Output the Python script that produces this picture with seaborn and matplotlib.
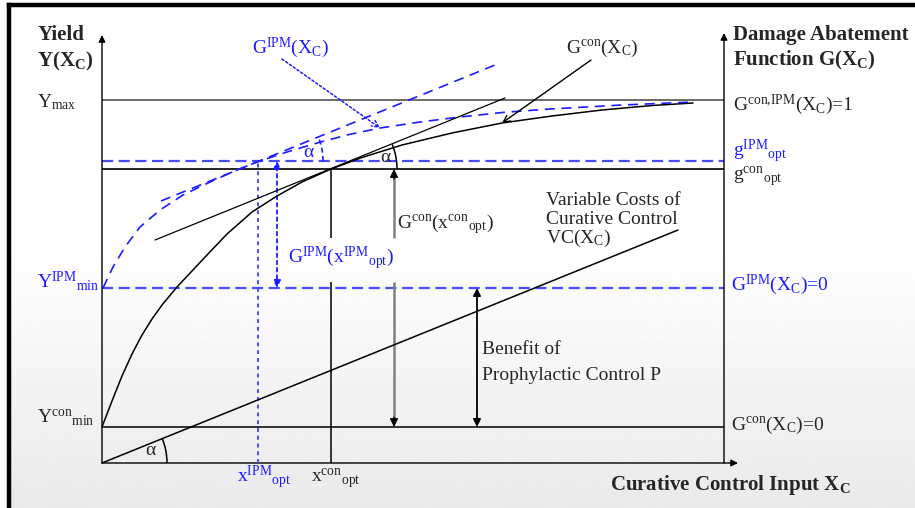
import numpy as np
import pandas as pd
import seaborn as sns
import matplotlib.pyplot as plt
from matplotlib.patches import Arc

# Yield levels (diagram units, origin at the axes cross)
y_max = 363
g_ipm_opt = 302
g_con_opt = 294
y_ipm_min = 175
y_con_min = 36
x_right = 622          # right-hand axis (damage abatement)
x_con_opt = 229
x_ipm_opt = 156

# damage abatement curve, conventional
con_x = [0, 10, 20, 30, 40, 50, 60, 75, 90, 105, 125, 150, 175, 200, 229,
         260, 300, 350, 400, 450, 500, 550, 591]
con_y = [36, 62, 87, 109, 128, 144, 158, 176, 192, 208, 229, 251, 267, 281, 294,
         305.5, 318, 330, 340, 347, 353, 357.5, 360]

# damage abatement curve, IPM
ipm_x = [1, 11, 23, 38, 58, 81, 108, 135, 155, 185, 215, 245, 278, 318, 358, 400, 448, 520, 591]
ipm_y = [175, 196, 216, 236, 253, 268, 281, 293, 301, 311, 320, 328, 335, 341, 346, 350.5, 354, 358, 361]

# variable costs of curative control and the two tangents (same slope)
vc_x = [0, 576]
vc_y = [0, 233]
tan_con_x = [53, 403]
tan_con_y = [223, 365]
tan_ipm_x = [59, 393]
tan_ipm_y = [262, 398]

BLUE = "#1c1cff"
BLUE_L = "#4a4aff"

sns.set_theme(style="white")
plt.rcParams["font.family"] = ["Liberation Serif", "DejaVu Serif"]
plt.rcParams["mathtext.fontset"] = "custom"
plt.rcParams["mathtext.rm"] = "Liberation Serif"
plt.rcParams["mathtext.it"] = "Liberation Serif:italic"
plt.rcParams["mathtext.bf"] = "Liberation Serif:bold"
plt.rcParams["mathtext.default"] = "rm"

fig = plt.figure(figsize=(9.15, 5.08), dpi=100)
ax = fig.add_axes([0, 0, 1, 1])
ax.set_xlim(-102, 813)
ax.set_ylim(-45, 463)
ax.axis("off")

# slide background: white fading to light grey at the bottom
rows = np.arange(508)
grad = np.clip(1 - (rows - 240) / 268 * 0.085, 0.915, 1.0)[:, None] * np.ones((1, 2))
ax.imshow(grad, cmap="gray", vmin=0, vmax=1, extent=(-93, 813, -45, 458),
          aspect="auto", zorder=0, origin="upper")

# slide frame
ax.plot([-93, -93], [-45, 458], color="black", lw=3.2, solid_capstyle="projecting", zorder=1)
ax.plot([-93, 813], [458, 458], color="black", lw=3.2, solid_capstyle="projecting", zorder=1)

arr = dict(arrowstyle="-|>", color="black", lw=1, mutation_scale=10, shrinkA=0, shrinkB=0)
ax.annotate("", xy=(0, 428), xytext=(0, 0), arrowprops=arr, zorder=3)
ax.annotate("", xy=(636, 0), xytext=(0, 0), arrowprops=arr, zorder=3)
ax.annotate("", xy=(x_right, 430), xytext=(x_right, 0), arrowprops=arr, zorder=3)

# horizontal reference lines
ax.hlines(y_max, 0, x_right, color="#444444", lw=1.1, zorder=2)
ax.hlines(g_con_opt, 0, x_right, color="black", lw=1.2, zorder=2)
ax.hlines(y_con_min, 0, x_right, color="black", lw=1.1, zorder=2)
ax.hlines([g_ipm_opt, y_ipm_min], 0, x_right, color=BLUE_L, lw=1.6,
          linestyles=[(0, (5, 2.5))], zorder=2)

# curves
sns.lineplot(x=con_x, y=con_y, ax=ax, color="black", lw=1.1, errorbar=None, zorder=4)
sns.lineplot(x=ipm_x, y=ipm_y, ax=ax, color=BLUE, lw=1.2, errorbar=None,
             linestyle=(0, (6, 4)), zorder=4)
sns.lineplot(x=vc_x, y=vc_y, ax=ax, color="black", lw=1.1, errorbar=None, zorder=4)
sns.lineplot(x=tan_con_x, y=tan_con_y, ax=ax, color="black", lw=0.9, errorbar=None, zorder=4)
sns.lineplot(x=tan_ipm_x, y=tan_ipm_y, ax=ax, color=BLUE, lw=1.2, errorbar=None,
             linestyle=(0, (6, 4)), zorder=4)

# verticals at the optima (with a gap for the label)
gap_lo, gap_hi = 181, 225
ax.vlines([x_con_opt, x_con_opt], [0, gap_hi], [gap_lo, g_con_opt], color="black", lw=1.1, zorder=3)
ax.vlines(x_ipm_opt, 0, g_ipm_opt, color=BLUE_L, lw=1.4, linestyles=[(0, (2, 2))], zorder=3)

# vertical distance arrows
ax.annotate("", xy=(175, g_ipm_opt), xytext=(175, y_ipm_min),
            arrowprops=dict(arrowstyle="<|-|>", color=BLUE, lw=1.3, ls=(0, (2, 2)),
                            mutation_scale=11, shrinkA=0, shrinkB=0), zorder=3)
ax.vlines([292, 292], [y_con_min + 6, gap_hi], [gap_lo, g_con_opt - 6], color="#808080",
          lw=1.8, zorder=3)
head = dict(arrowstyle="-|>", color="black", lw=1, mutation_scale=12, shrinkA=0, shrinkB=0)
ax.annotate("", xy=(292, g_con_opt), xytext=(292, g_con_opt - 10), arrowprops=head, zorder=3)
ax.annotate("", xy=(292, y_con_min), xytext=(292, y_con_min + 10), arrowprops=head, zorder=3)
ax.annotate("", xy=(375, y_ipm_min), xytext=(375, y_con_min),
            arrowprops=dict(arrowstyle="<|-|>", color="black", lw=1.3, mutation_scale=11,
                            shrinkA=0, shrinkB=0), zorder=3)

# pointers from the curve labels
ax.annotate("", xy=(278, 335), xytext=(180, 404),
            arrowprops=dict(arrowstyle="->", color=BLUE, lw=1.1, ls=(0, (1.5, 1.5)),
                            mutation_scale=12, shrinkA=0, shrinkB=0), zorder=5)
ax.annotate("", xy=(400, 340), xytext=(489, 403),
            arrowprops=dict(arrowstyle="->", color="black", lw=1.0, mutation_scale=12,
                            shrinkA=0, shrinkB=0), zorder=5)

# angle arcs
ax.add_patch(Arc((0, 0), 130, 130, theta1=0, theta2=22, color="black", lw=1.1, zorder=4))
ax.add_patch(Arc((x_con_opt, g_con_opt), 132, 132, theta1=0, theta2=22, color="black",
                 lw=1.1, zorder=4))
ax.add_patch(Arc((x_ipm_opt, g_ipm_opt), 130, 130, theta1=0, theta2=22, color=BLUE,
                 lw=1.2, ls=(0, (3, 2)), zorder=4))

# texts
fs = 14
fb = 15
kw = dict(va="baseline", ha="left", fontsize=fs, zorder=6)
kb = dict(va="baseline", ha="left", fontsize=fb, fontweight="bold", zorder=6)
ax.text(-64, 423, "Yield", **kb)
ax.text(-65, 397, r"$\mathbf{Y(X_C)}$", **kb)
ax.text(-65, 356, r"$Y_{max}$", **kw)
ax.text(-65, 176, r"$Y^{IPM}{}_{min}$", color=BLUE, **kw)
ax.text(-65, 40, r"$Y^{con}{}_{min}$", **kw)
ax.text(150, 410, r"$G^{IPM}(X_C)$", color=BLUE, **kw)
ax.text(464, 410, r"$G^{con}(X_C)$", **kw)
ax.text(631, 423, "Damage Abatement", **kb)
ax.text(631, 398, r"Function $\mathbf{G(X_C)}$", **kb)
ax.text(631, 353, r"$G^{con{,}IPM}(X_C)$=1", **kw)
ax.text(631, 307, r"$g^{IPM}{}_{opt}$", color=BLUE, **kw)
ax.text(631, 283, r"$g^{con}{}_{opt}$", **kw)
ax.text(629, 173, r"$G^{IPM}(X_C)$=0", color=BLUE, **kw)
ax.text(629, 33, r"$G^{con}(X_C)$=0", **kw)
ax.text(295, 235, r"$G^{con}(x^{con}{}_{opt})$", **kw)
ax.text(186, 200, r"$G^{IPM}(x^{IPM}{}_{opt})$", color=BLUE, **kw)
ax.text(444, 258, "Variable Costs of", **kw)
ax.text(444, 239, "Curative Control", **kw)
ax.text(444, 220, r"$VC(X_C)$", **kw)
ax.text(380, 109, "Benefit of", **kw)
ax.text(380, 83, "Prophylactic Control P", **kw)
ax.text(43, 8, "α", **kw)
ax.text(278, 301, "α", **kw)
ax.text(201, 306, "α", color=BLUE, **kw)
ax.text(135, -19, r"$x^{IPM}{}_{opt}$", color=BLUE, **kw)
ax.text(209, -19, r"$x^{con}{}_{opt}$", **kw)
ax.text(508, -27, r"Curative Control Input $\mathbf{X_C}$", **kb)

fig.savefig("out.png", dpi=100)
